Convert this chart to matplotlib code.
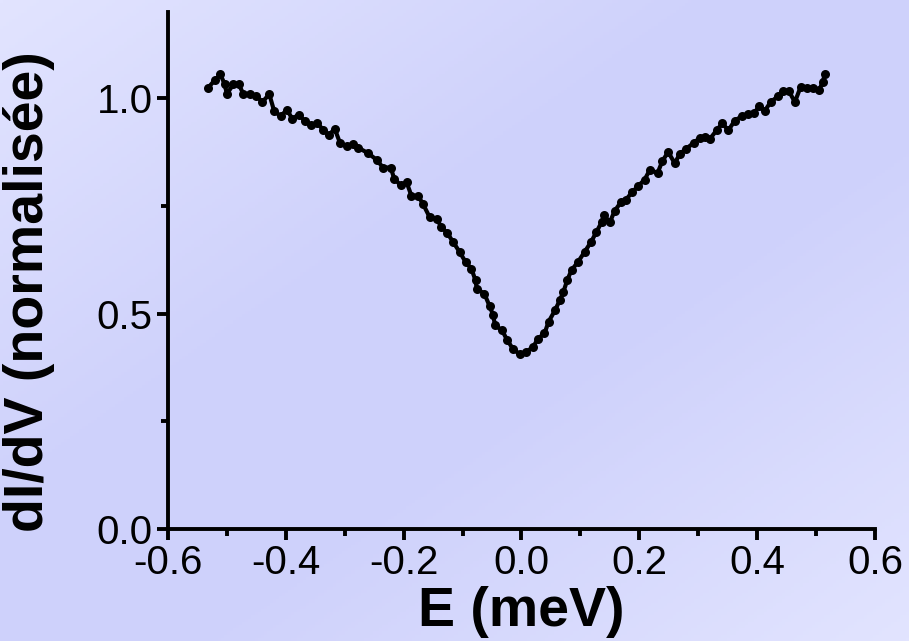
import numpy as np
import matplotlib
matplotlib.use("Agg")
import matplotlib.pyplot as plt
from matplotlib.ticker import MultipleLocator, FormatStrFormatter

# dI/dV spectrum
energy = [-0.532, -0.521, -0.511, -0.504, -0.500, -0.489, -0.480, -0.472, -0.461, -0.450,
          -0.440, -0.428, -0.420, -0.409, -0.398, -0.389, -0.378, -0.368, -0.358, -0.347,
          -0.337, -0.327, -0.317, -0.308, -0.297, -0.286, -0.277, -0.260, -0.246, -0.235,
          -0.222, -0.216, -0.205, -0.195, -0.187, -0.175, -0.167, -0.156, -0.144, -0.136,
          -0.126, -0.116, -0.105, -0.095, -0.085, -0.078, -0.076, -0.063, -0.054, -0.048,
          -0.045, -0.033, -0.024, -0.014, -0.003, 0.008, 0.020, 0.028, 0.039, 0.046,
          0.057, 0.065, 0.071, 0.078, 0.085, 0.096, 0.107, 0.118, 0.127, 0.136,
          0.140, 0.150, 0.158, 0.169, 0.177, 0.188, 0.198, 0.209, 0.218, 0.231,
          0.239, 0.249, 0.260, 0.269, 0.280, 0.292, 0.303, 0.311, 0.320, 0.331,
          0.341, 0.351, 0.362, 0.374, 0.385, 0.395, 0.403, 0.413, 0.423, 0.435,
          0.444, 0.454, 0.464, 0.474, 0.484, 0.495, 0.505, 0.511, 0.515]
didv = [1.024, 1.041, 1.055, 1.033, 1.010, 1.032, 1.032, 1.010, 1.009, 1.006,
        0.991, 1.009, 0.971, 0.958, 0.973, 0.952, 0.962, 0.947, 0.937, 0.943,
        0.927, 0.914, 0.929, 0.896, 0.888, 0.894, 0.885, 0.872, 0.857, 0.839,
        0.839, 0.813, 0.798, 0.805, 0.774, 0.772, 0.754, 0.724, 0.720, 0.701,
        0.687, 0.666, 0.643, 0.620, 0.604, 0.577, 0.558, 0.546, 0.517, 0.496,
        0.473, 0.461, 0.438, 0.417, 0.406, 0.411, 0.423, 0.442, 0.454, 0.481,
        0.508, 0.531, 0.550, 0.579, 0.601, 0.620, 0.643, 0.666, 0.689, 0.712,
        0.728, 0.712, 0.738, 0.759, 0.764, 0.782, 0.796, 0.811, 0.834, 0.826,
        0.854, 0.875, 0.849, 0.871, 0.883, 0.896, 0.908, 0.911, 0.906, 0.925,
        0.942, 0.925, 0.948, 0.958, 0.964, 0.965, 0.981, 0.971, 0.991, 1.004,
        1.016, 1.016, 0.991, 1.027, 1.024, 1.024, 1.018, 1.037, 1.055]

plt.rcParams['font.family'] = ['Liberation Sans', 'DejaVu Sans']

fig = plt.figure(figsize=(9.09, 6.41), dpi=100)

# lavender background, a bit lighter towards the top-left / bottom-right corners
bg = fig.add_axes([0, 0, 1, 1], zorder=-10)
u, v = np.meshgrid(np.linspace(0, 1, 300), np.linspace(0, 1, 200))
t = np.clip(np.abs(u + v - 1.0) - 0.2, 0, None) / 0.8
dark = np.array([206, 209, 251]) / 255.
light = np.array([226, 228, 255]) / 255.
img = dark[None, None, :] * (1 - t[..., None]) + light[None, None, :] * t[..., None]
bg.imshow(img, aspect='auto', extent=[0, 1, 0, 1], origin='upper')
bg.set_axis_off()

ax = fig.add_axes([0.1848, 0.1747, 0.7778, 0.8066])
ax.patch.set_alpha(0)
ax.plot(energy, didv, '-o', color='black', lw=3, ms=6.5, mew=0)

ax.set_xlim(-0.6, 0.6)
ax.set_ylim(0, 1.2)
ax.xaxis.set_major_locator(MultipleLocator(0.2))
ax.xaxis.set_minor_locator(MultipleLocator(0.1))
ax.yaxis.set_major_locator(MultipleLocator(0.5))
ax.yaxis.set_minor_locator(MultipleLocator(0.25))
ax.xaxis.set_major_formatter(FormatStrFormatter('%.1f'))
ax.yaxis.set_major_formatter(FormatStrFormatter('%.1f'))

for side in ['top', 'right']:
    ax.spines[side].set_visible(False)
for side in ['left', 'bottom']:
    ax.spines[side].set_linewidth(2.8)

ax.tick_params(which='major', direction='out', length=8, width=2.8, labelsize=29, pad=3)
ax.tick_params(which='minor', direction='out', length=5, width=2.8)

ax.set_xlabel('E (meV)', fontsize=40, fontweight='bold', labelpad=3)
ax.set_ylabel('dI/dV (normalisée)', fontsize=40, fontweight='bold')
ax.yaxis.set_label_coords(-0.16, 0.46)

fig.savefig('out.png', dpi=100)
